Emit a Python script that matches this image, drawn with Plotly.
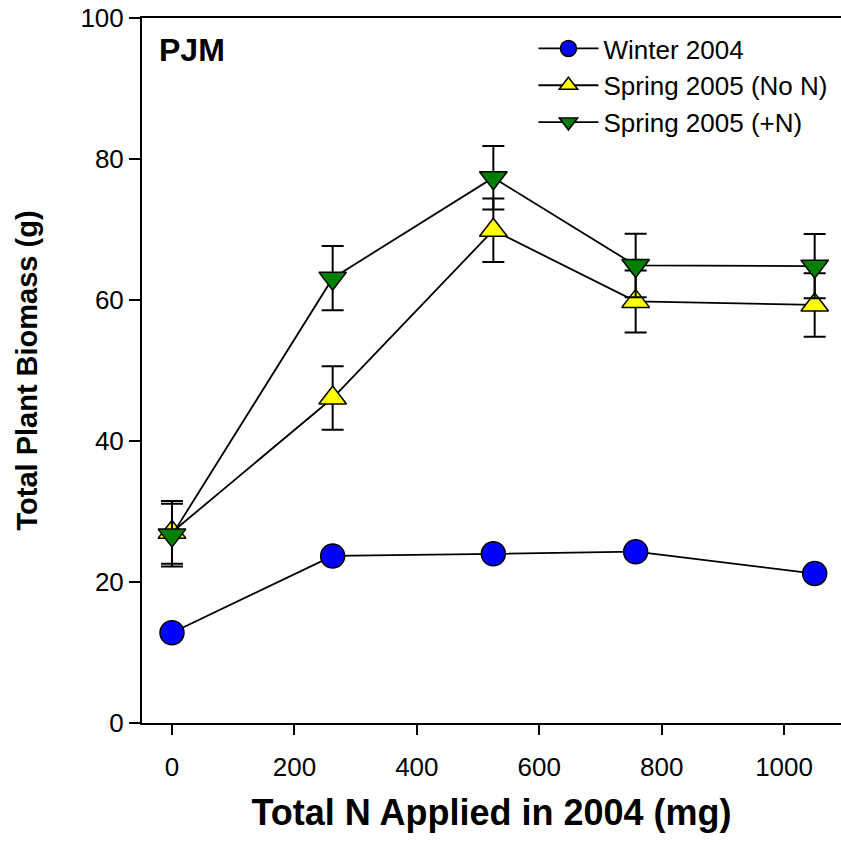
import plotly.graph_objects as go

# Total N applied in 2004 (mg)
n_applied = [0, 262.5, 525, 757.5, 1050]

# Total plant biomass (g)
winter_2004 = [12.8, 23.7, 24.0, 24.3, 21.2]
spring_no_n = [27.05, 46.1, 69.9, 59.8, 59.3]
spring_no_n_err = [4.45, 4.5, 4.5, 4.4, 4.5]
spring_plus_n = [26.65, 63.1, 77.35, 64.9, 64.8]
spring_plus_n_err = [4.45, 4.55, 4.5, 4.5, 4.55]

series_names = ["Winter 2004", "Spring 2005 (No N)", "Spring 2005 (+N)"]

FONT = "Liberation Sans, Arial, sans-serif"
LINE = dict(color="black", width=1.8)

fig = go.Figure()

fig.add_trace(go.Scatter(
    x=n_applied, y=winter_2004, name=series_names[0],
    mode="lines+markers", line=LINE,
    marker=dict(symbol="circle", size=24, color="#0000FF",
                line=dict(color="black", width=1.5)),
))

fig.add_trace(go.Scatter(
    x=n_applied, y=spring_no_n, name=series_names[1],
    mode="lines+markers", line=LINE,
    marker=dict(symbol="triangle-up", size=24, color="#FFFF00",
                line=dict(color="black", width=1.5)),
    error_y=dict(type="data", array=spring_no_n_err, visible=True,
                 color="black", thickness=2, width=11),
))

fig.add_trace(go.Scatter(
    x=n_applied, y=spring_plus_n, name=series_names[2],
    mode="lines+markers", line=LINE,
    marker=dict(symbol="triangle-down", size=24, color="#008000",
                line=dict(color="black", width=1.5)),
    error_y=dict(type="data", array=spring_plus_n_err, visible=True,
                 color="black", thickness=2, width=11),
))

fig.add_annotation(
    text="<b>PJM</b>", xref="paper", yref="paper",
    x=0.022, y=0.955, xanchor="left", yanchor="middle",
    showarrow=False, font=dict(family=FONT, size=32, color="black"),
)

fig.update_layout(
    width=841, height=842,
    margin=dict(l=142, r=0, t=18, b=119),
    paper_bgcolor="white", plot_bgcolor="white",
    font=dict(family=FONT, color="black"),
    showlegend=True,
    legend=dict(
        x=0.56, y=0.99, xanchor="left", yanchor="top",
        bgcolor="rgba(0,0,0,0)", borderwidth=0,
        font=dict(family=FONT, size=26, color="black"),
        tracegroupgap=0, itemwidth=60,
    ),
    xaxis=dict(
        range=[-49, 1093], showgrid=False, zeroline=False,
        showline=True, linecolor="black", linewidth=2, mirror=True,
        ticks="outside", ticklen=10, tickwidth=2, tickcolor="black",
        tickvals=[0, 200, 400, 600, 800, 1000],
        ticklabelstandoff=10,
        tickfont=dict(family=FONT, size=26, color="black"),
        title=dict(text="<b>Total N Applied in 2004 (mg)</b>",
                   font=dict(family=FONT, size=36, color="black"),
                   standoff=19),
    ),
    yaxis=dict(
        range=[0, 100], showgrid=False, zeroline=False,
        showline=True, linecolor="black", linewidth=2,
        ticks="outside", ticklen=11, tickwidth=2, tickcolor="black",
        tickvals=[0, 20, 40, 60, 80, 100],
        tickfont=dict(family=FONT, size=26, color="black"),
        title=dict(text="<b>Total Plant Biomass (g)</b>",
                   font=dict(family=FONT, size=29, color="black"),
                   standoff=34),
    ),
)

fig.write_html("out.html")
